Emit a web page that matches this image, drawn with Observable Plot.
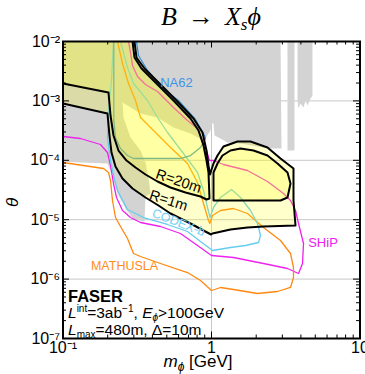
<!DOCTYPE html>
<html><head><meta charset="utf-8">
<script src="https://cdn.jsdelivr.net/npm/d3@7"></script>
<script src="https://cdn.jsdelivr.net/npm/@observablehq/plot@0.6"></script>
<style>
body{margin:0;background:#fff;}
#wrap{position:relative;width:365px;height:374px;overflow:hidden;}
</style></head><body><div id="wrap"></div>
<script>
// ---- axis ticks ----
const xMajor = [0.1, 1, 10];
const xMinor = [0.2,0.3,0.4,0.5,0.6,0.7,0.8,0.9,2,3,4,5,6,7,8,9];
const yMajor = [1e-7,1e-6,1e-5,1e-4,1e-3,1e-2];
const yMinor = [2e-7,3e-7,4e-7,5e-7,6e-7,7e-7,8e-7,9e-7,
  2e-6,3e-6,4e-6,5e-6,6e-6,7e-6,8e-6,9e-6,
  2e-5,3e-5,4e-5,5e-5,6e-5,7e-5,8e-5,9e-5,
  2e-4,3e-4,4e-4,5e-4,6e-4,7e-4,8e-4,9e-4,
  2e-3,3e-3,4e-3,5e-3,6e-3,7e-3,8e-3,9e-3];
const xTickLabels = ["10\u207B\u00B9","1","10"];
const yTickLabels = ["10\u207B\u2077","10\u207B\u2076","10\u207B\u2075","10\u207B\u2074","10\u207B\u00B3","10\u207B\u00B2"];
const xGrid = [1];
const yGrid = [1e-6,1e-5,1e-4,1e-3];

// ---- regions and curves: [m_phi (GeV), theta] ----
const excluded = [[0.09,1.2e-2],[2.915,1.2e-2],[2.961,1.580e-4],[2.496,1.580e-4],[2.041,1.707e-4],[1.568,1.918e-4],[1.281,1.993e-4],[1.150,2.328e-4],[1.048,2.615e-4],[1.0315,4.165e-4],[1.0078,4.165e-4],[0.9847,3.175e-4],[0.9112,2.328e-4],[0.8833,2.154e-4],[0.7222,2.826e-4],[0.5548,3.566e-4],[0.4329,5.254e-4],[0.3326,6.136e-4],[0.2516,9.399e-4],[0.2555,5.254e-4],[0.2849,2.420e-4],[0.3326,1.462e-4],[0.3594,9.183e-5],[0.3765,5.134e-5],[0.3884,2.761e-5],[0.3594,2.458e-5],[0.3538,9.326e-6],[0.2984,1.008e-5],[0.2636,1.544e-5],[0.2328,2.761e-5],[0.2154,5.548e-5],[0.1993,8.833e-5],[0.09,9.546e-5]];
const excludedBar1 = [[3.250,1.2e-2],[3.622,1.2e-2],[3.622,1.462e-4],[3.250,1.462e-4]];
const excludedBar2 = [[3.795,1.2e-2],[4.786,1.2e-2],[4.786,1.233e-3],[4.571,1.016e-3],[4.431,8.366e-4],[4.295,1.016e-3],[4.165,7.743e-4],[3.975,9.041e-4],[3.854,7.449e-4],[3.795,1.016e-3]];

const faser20Main = [[0.09,1.2e-2],[0.2938,1.2e-2],[0.2938,1e-2],[0.3030,5.378e-3],[0.3378,3.512e-3],[0.4197,2.041e-3],[0.5548,1.016e-3],[0.7222,5.055e-4],[0.8176,3.175e-4],[0.8833,1.775e-4],[0.9254,9.922e-5],[0.9546,6.231e-5],[0.9694,2.275e-5],[0.9254,2.188e-5],[0.8433,2.458e-5],[0.6682,2.871e-5],[0.5296,3.484e-5],[0.4329,4.397e-5],[0.3594,5.767e-5],[0.3078,7.566e-5],[0.2677,9.922e-5],[0.2364,1.462e-4],[0.2188,2.615e-4],[0.2089,5.678e-4],[0.2025,1.385e-3],[0.1,1.963e-3],[0.09,1.963e-3]];
const faser20Island = [[1.0315,6.231e-5],[1.0975,8.833e-5],[1.1858,1.204e-4],[1.3424,1.462e-4],[1.568,1.580e-4],[1.9178,1.462e-4],[2.3826,1.204e-4],[2.7826,8.833e-5],[3.2497,6.231e-5],[3.4041,4.069e-5],[3.2497,2.364e-5],[2.915,2.104e-5],[1.0315,2.104e-5]];
const faser1 = [[0.09,1.2e-2],[0.3030,1.2e-2],[0.3030,1e-2],[0.3125,5.378e-3],[0.3538,3.512e-3],[0.4397,2.041e-3],[0.5812,1.016e-3],[0.7566,5.055e-4],[0.8698,2.938e-4],[0.9254,1.462e-4],[0.9546,8.176e-5],[0.9770,5.767e-5],[1.0315,8.833e-5],[1.0975,1.204e-4],[1.2042,1.707e-4],[1.4965,2.073e-4],[1.8306,2.073e-4],[2.3826,1.642e-4],[2.915,1.072e-4],[3.5659,7.278e-5],[3.5659,2.104e-5],[3.679,7.988e-6],[2.2397,7.683e-6],[1.7475,7.391e-6],[1.3424,6.84e-6],[1.0156,5.857e-6],[0.9923,5.634e-6],[0.8833,6.579e-6],[0.7222,8.630e-6],[0.5296,1.272e-5],[0.4397,1.734e-5],[0.3594,2.364e-5],[0.2938,3.352e-5],[0.2516,4.939e-5],[0.2257,7.864e-5],[0.2121,1.353e-4],[0.2056,2.615e-4],[0.1993,6.136e-4],[0.1,9.041e-4],[0.09,9.041e-4]];

const na62 = [[0.2198,1.531e-2],[0.2198,4.677e-4],[0.2257,2.420e-4],[0.2439,1.580e-4],[0.2719,1.204e-4],[0.2984,1.072e-4],[0.6183,1.072e-4],[0.7222,1.204e-4],[0.8433,1.642e-4],[0.9112,2.328e-4],[0.8971,2.615e-4],[0.7804,4.862e-4],[0.5995,1.016e-3],[0.4677,1.617e-3],[0.3707,3.250e-3],[0.3225,5.812e-3],[0.3125,1e-2],[0.3125,1.531e-2]];
const codexb = [[0.2439,1.531e-2],[0.2439,1e-2],[0.2719,3.650e-3],[0.2984,1.963e-3],[0.3707,1.016e-3],[0.4329,5.254e-4],[0.5055,2.938e-4],[0.6477,1.302e-4],[0.8050,6.231e-5],[0.8833,3.102e-5],[0.9399,1.605e-5],[0.9770,1.089e-5],[1.0315,1.605e-5],[1.1497,2.364e-5],[1.3634,3.225e-5],[1.568,2.364e-5],[1.8306,1.428e-5],[2.0410,8.630e-6],[2.1380,5.420e-6],[2.0731,4.132e-6],[1.6943,3.679e-6],[1.3424,3.404e-6],[1.0156,3.030e-6],[0.8433,4.295e-6],[0.6893,6.329e-6],[0.5055,8.303e-6],[0.3484,1.089e-5],[0.2719,1.485e-5],[0.2328,3.102e-5],[0.2188,5.548e-5],[0.2089,9.922e-5],[0.1993,2.420e-4],[0.2025,6.893e-4],[0.2121,2.204e-3],[0.2188,1e-2],[0.2188,1.531e-2]];
const ship = [[0.089,2.516e-4],[0.1,2.516e-4],[0.1311,2.328e-4],[0.1789,1.845e-4],[0.1993,1.353e-4],[0.2089,8.176e-5],[0.2188,4.069e-5],[0.2293,2.364e-5],[0.2516,1.428e-5],[0.2849,1.089e-5],[0.3326,8.973e-6],[0.4535,7.683e-6],[0.6183,5.857e-6],[0.8050,3.679e-6],[1.0,2.496e-6],[1.4066,2.310e-6],[2.2397,1.831e-6],[3.2497,1.508e-6],[3.8542,1.242e-6],[4.1008,1.831e-6],[4.1650,3.975e-6],[3.8542,8.630e-6],[3.679,1.428e-5],[3.4041,2.104e-5],[3.0538,2.761e-5],[2.3826,4.397e-5],[1.7475,6.733e-5],[1.2042,8.498e-5],[1.0315,9.922e-5],[0.9694,9.922e-5],[0.9112,1.642e-4],[0.8050,3.430e-4],[0.6893,4.677e-4],[0.5548,7.743e-4],[0.4329,1.440e-3],[0.3594,1.888e-3],[0.3175,2.576e-3],[0.2938,3.945e-3],[0.2849,6.530e-3],[0.2761,1e-2],[0.2719,1.531e-2]];
const mathusla = [[0.089,9.183e-5],[0.1,9.183e-5],[0.1874,7.278e-5],[0.2025,6.231e-5],[0.2089,4.571e-5],[0.2154,2.104e-5],[0.2257,1.089e-5],[0.2439,7.683e-6],[0.2719,4.826e-6],[0.2984,2.698e-6],[0.3326,2.401e-6],[0.4535,1.831e-6],[0.6893,1.291e-6],[0.8433,9.471e-7],[1.0,6.428e-7],[1.1497,7.222e-7],[1.4066,6.682e-7],[2.0410,5.722e-7],[2.7826,6.183e-7],[3.4041,7.222e-7],[3.5659,1.064e-6],[3.5659,1.568e-6],[3.4041,2.698e-6],[2.915,4.465e-6],[2.2397,7.391e-6],[1.7475,1.272e-5],[1.4066,1.544e-5],[1.1497,1.428e-5],[1.0156,1.177e-5],[0.974,8.630e-6],[0.9546,9.694e-6],[0.8833,1.874e-5],[0.8050,4.230e-5],[0.6893,8.833e-5],[0.5296,1.642e-4],[0.3884,3.566e-4],[0.3326,5.254e-4],[0.3078,1.016e-3],[0.2761,1.963e-3],[0.2516,4.262e-3],[0.2328,1e-2],[0.2293,1.531e-2]];

// ---- labels ----
const curveLabels = [
  {text:"NA62", m:0.5812, t:2.041e-3, color:"#3d95e6", size:13, rot:0},
  {text:"MATHUSLA", m:0.2595, t:1.630e-6, color:"#ff8c1a", size:12.5, rot:0},
  {text:"SHiP", m:5.634, t:4.132e-6, color:"#ee22ee", size:13, rot:0},
  {text:"CODEX-b", m:0.5995, t:8.973e-6, color:"#6fd0f5", size:12.5, rot:21},
  {text:"R=20m", m:0.6000, t:4.45e-5, color:"black", size:14.5, rot:19},
  {text:"R=1m", m:0.5134, t:2.104e-5, color:"black", size:14.5, rot:18}
];

(function () {
const FONT = "Liberation Sans, Arial, Helvetica, sans-serif";
const px = d => d[0], py = d => d[1];
const W = 365, H = 374, mL = 62.5, mR = 5.5, mT = 41, mB = 36;
const iw = W - mL - mR, ih = H - mT - mB;
const majorLen = 6.5, minorLen = 3.5;
const yellow = {fill: "#ffff00", fillOpacity: 0.2, stroke: "none", clip: true};

const plot = Plot.plot({
  width: W, height: H,
  marginLeft: mL, marginRight: mR, marginTop: mT, marginBottom: mB,
  x: {type: "log", domain: [0.1, 10], label: null},
  y: {type: "log", domain: [1e-7, 1e-2], label: null},
  style: {fontFamily: FONT, fontSize: "16px", background: "white", color: "black"},
  marks: [
    Plot.ruleY(yGrid, {stroke: "#c8c8c8", strokeWidth: 1}),
    Plot.ruleX(xGrid, {stroke: "#c8c8c8", strokeWidth: 1}),
    Plot.line(excluded, {x: px, y: py, fill: "#d3d3d3", stroke: "none", clip: true}),
    Plot.line(excludedBar1, {x: px, y: py, fill: "#d3d3d3", stroke: "none", clip: true}),
    Plot.line(excludedBar2, {x: px, y: py, fill: "#d3d3d3", stroke: "none", clip: true}),
    Plot.line(ship, {x: px, y: py, stroke: "#ee22ee", strokeWidth: 1.3, clip: true}),
    Plot.line(mathusla, {x: px, y: py, stroke: "#ff8811", strokeWidth: 1.3, clip: true}),
    Plot.line(codexb, {x: px, y: py, stroke: "#66ccee", strokeWidth: 1.3, clip: true}),
    Plot.line(na62, {x: px, y: py, stroke: "#3a92d0", strokeWidth: 1.3, clip: true}),
    Plot.line(faser1, {x: px, y: py, ...yellow}),
    Plot.line(faser20Main, {x: px, y: py, ...yellow}),
    Plot.line(faser20Island, {x: px, y: py, ...yellow}),
    Plot.line(faser1, {x: px, y: py, curve: "linear-closed", stroke: "black", strokeWidth: 2, clip: true}),
    Plot.line(faser20Main, {x: px, y: py, curve: "linear-closed", stroke: "black", strokeWidth: 2, clip: true}),
    Plot.line(faser20Island, {x: px, y: py, curve: "linear-closed", stroke: "black", strokeWidth: 2, clip: true}),
    Plot.text(curveLabels, {x: "m", y: "t", text: "text", fill: "color", fontSize: "size", rotate: "rot", fontFamily: FONT}),
    Plot.frame({stroke: "black", strokeWidth: 2}),
    Plot.tickY(yMajor, {insetRight: iw - majorLen, stroke: "black"}),
    Plot.tickY(yMinor, {insetRight: iw - minorLen, stroke: "black"}),
    Plot.tickY(yMajor, {insetLeft: iw - majorLen, stroke: "black"}),
    Plot.tickY(yMinor, {insetLeft: iw - minorLen, stroke: "black"}),
    Plot.tickX(xMajor, {insetTop: ih - majorLen, stroke: "black"}),
    Plot.tickX(xMinor, {insetTop: ih - minorLen, stroke: "black"}),
    Plot.tickX(xMajor, {insetBottom: ih - majorLen, stroke: "black"}),
    Plot.tickX(xMinor, {insetBottom: ih - minorLen, stroke: "black"}),
    Plot.axisY(yMajor, {tickSize: 0, tickPadding: 3, label: null, fontSize: 16,
      tickFormat: d => yTickLabels[yMajor.indexOf(d)]}),
    Plot.axisX(xMajor, {tickSize: 0, tickPadding: 3, label: null, fontSize: 16,
      tickFormat: d => xTickLabels[xMajor.indexOf(d)]})
  ]
});
document.getElementById("wrap").appendChild(plot);

// ---- rich text (title, axis labels, FASER legend) ----
const xs = plot.scale("x"), ys = plot.scale("y");
const svg = d3.select(plot);
function rich(x, y, parts, attrs) {
  const t = svg.append("text").attr("x", x).attr("y", y).attr("text-anchor", "start");
  for (const [k, v] of Object.entries(attrs)) t.attr(k, v);
  for (const p of parts) {
    const s = t.append("tspan").text(p.t);
    if (p.i) s.attr("font-style", "italic");
    if (p.b) s.attr("font-weight", "bold");
    if (p.s) s.attr("font-size", p.s);
    if (p.dy) s.attr("dy", p.dy);
    if (p.dx) s.attr("dx", p.dx);
  }
  return t;
}
const fL = xs.apply(0.1), fR = xs.apply(10), fT = ys.apply(1e-2), fB = ys.apply(1e-7);
const cx = (fL + fR) / 2;
rich(cx, fT - 16, [
  {t: "B", i: 1}, {t: "\u2192", dx: 11}, {t: "X", i: 1, dx: 11}, {t: "s", i: 1, s: 17, dy: 5}, {t: "\u03D5", i: 1, s: 26, dy: -5}
], {"text-anchor": "middle", "font-family": "Liberation Serif, Times New Roman, serif", "font-size": 26, fill: "black"});

rich(fL + 101, H - 7, [
  {t: "m", i: 1}, {t: "\u03D5", i: 1, s: 12, dy: 3.5}, {t: " [GeV]", s: 17, dy: -3.5}
], {"font-family": FONT, "font-size": 17, fill: "black"});

rich(0, 0, [{t: "\u03B8", i: 1}], {"font-family": FONT, "font-size": 17, fill: "black", "text-anchor": "middle",
  transform: `translate(18,${(fT + fB) / 2 + 13}) rotate(-90)`});

const lx = fL + 5.5;
rich(lx, fB - 36, [{t: "FASER", b: 1}], {"font-family": FONT, "font-size": 16.5, fill: "black"});
rich(lx, fB - 20.5, [
  {t: "L", i: 1}, {t: "int", s: 10, dy: -6}, {t: "=3ab", s: 15.5, dy: 6}, {t: "\u22121", s: 10, dy: -6},
  {t: ", ", s: 15.5, dy: 6}, {t: "E", i: 1}, {t: "\u03D5", i: 1, s: 10, dy: 3}, {t: ">100GeV", s: 15.5, dy: -3}
], {"font-family": FONT, "font-size": 15.5, fill: "black"});
rich(lx, fB - 3.5, [
  {t: "L", i: 1}, {t: "max", s: 10, dy: 3}, {t: "=480m, \u0394=10m", s: 15.5, dy: -3}
], {"font-family": FONT, "font-size": 15.5, fill: "black"});
})();
</script></body></html>
